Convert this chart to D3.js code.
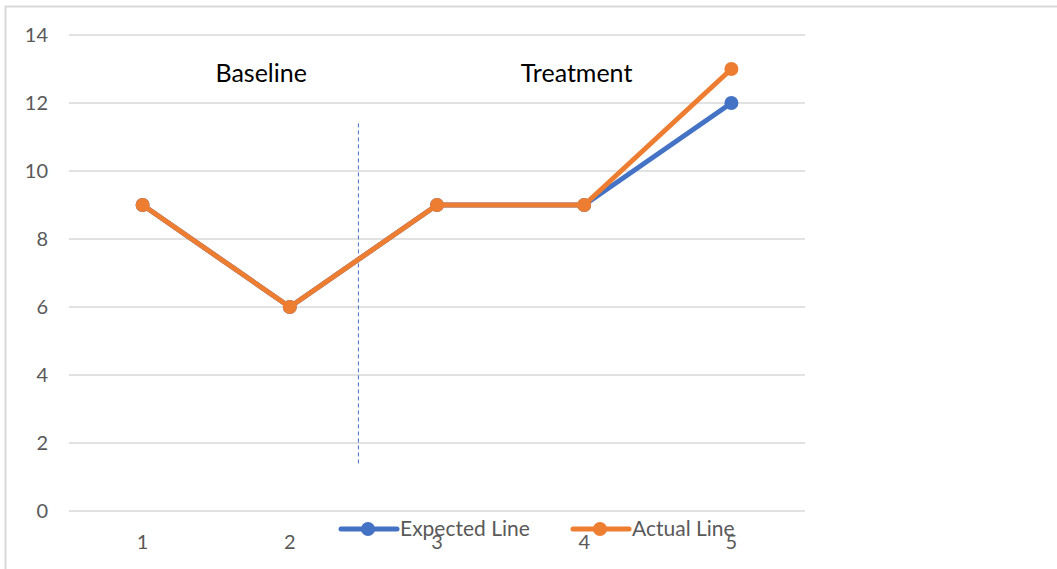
<!DOCTYPE html>
<html>
<head>
<meta charset="utf-8">
<script src="https://cdn.jsdelivr.net/npm/d3@7"></script>
<style>
  body { margin: 0; background: #fff; }
  text { font-family: Lato, "Open Sans", sans-serif; }
</style>
</head>
<body>
<div id="chart"></div>
<script>
// data
const categories = ["1", "2", "3", "4", "5"];
const expectedValues = [9, 6, 9, 9, 12];
const actualValues = [9, 6, 9, 9, 13];
const yTicks = [0, 2, 4, 6, 8, 10, 12, 14];
const seriesNames = ["Expected Line", "Actual Line"];
const phaseLabels = ["Baseline", "Treatment"];

const width = 1057, height = 569;
const margin = {top: 35, right: 252, bottom: 58, left: 69};
const innerW = width - margin.left - margin.right,
      innerH = height - margin.top - margin.bottom;

const svg = d3.select("#chart")
  .append("svg")
  .attr("width", width)
  .attr("height", height);

// outer chart border (only top and left visible)
svg.append("rect")
  .attr("x", 5.5).attr("y", 6.5)
  .attr("width", width + 10).attr("height", height + 10)
  .attr("fill", "none")
  .attr("stroke", "#d9d9d9")
  .attr("stroke-width", 2);

const g = svg.append("g")
  .attr("transform", `translate(${margin.left},${margin.top})`);

const x = d3.scaleBand()
  .domain(categories)
  .range([0, innerW]);

const y = d3.scaleLinear()
  .domain([0, 14])
  .range([innerH, 0]);

// gridlines
g.append("g")
  .selectAll("line")
  .data(yTicks)
  .join("line")
  .attr("x1", 0).attr("x2", innerW)
  .attr("y1", d => y(d)).attr("y2", d => y(d))
  .attr("stroke", "#d9d9d9")
  .attr("stroke-width", 1.5);

// y axis labels
const yAxis = g.append("g")
  .call(d3.axisLeft(y).tickValues(yTicks).tickSize(0).tickPadding(21));
yAxis.select(".domain").remove();
yAxis.selectAll("text")
  .attr("fill", "#595959")
  .style("font-size", "20px");

// x axis labels
const xAxis = g.append("g")
  .attr("transform", `translate(0,${innerH})`)
  .call(d3.axisBottom(x).tickSize(0).tickPadding(24));
xAxis.select(".domain").remove();
xAxis.selectAll("text")
  .attr("fill", "#595959")
  .style("font-size", "20px");

// phase change line between 2 and 3
const phaseX = (x("2") + x.bandwidth() / 2 + x("3") + x.bandwidth() / 2) / 2 - 5;
g.append("line")
  .attr("x1", phaseX).attr("x2", phaseX)
  .attr("y1", y(11.4)).attr("y2", y(1.4))
  .attr("stroke", "#4472c4")
  .attr("stroke-width", 1)
  .attr("stroke-dasharray", "4,3");

// phase labels
g.selectAll(".phase")
  .data(phaseLabels)
  .join("text")
  .attr("class", "phase")
  .attr("x", (d, i) => i === 0 ? x("2") + 45 : x("4") + 66)
  .attr("y", y(13) + 13)
  .attr("text-anchor", "middle")
  .attr("fill", "#000")
  .style("font-size", "25px")
  .text(d => d);

const colors = ["#4472c4", "#ed7d31"];
const series = [expectedValues, actualValues];

const line = d3.line()
  .x((d, i) => x(categories[i]) + x.bandwidth() / 2)
  .y(d => y(d));

series.forEach(function(vals, s) {
  g.append("path")
    .datum(vals)
    .attr("fill", "none")
    .attr("stroke", colors[s])
    .attr("stroke-width", 5)
    .attr("stroke-linejoin", "round")
    .attr("d", line);
  g.selectAll(".pt" + s)
    .data(vals)
    .join("circle")
    .attr("class", "pt" + s)
    .attr("cx", (d, i) => x(categories[i]) + x.bandwidth() / 2)
    .attr("cy", d => y(d))
    .attr("r", 7)
    .attr("fill", colors[s]);
});

// legend
const legendX = [341, 573];
const legend = svg.selectAll(".legend")
  .data(seriesNames)
  .join("g")
  .attr("class", "legend")
  .attr("transform", (d, i) => `translate(${legendX[i]},529)`);
legend.append("line")
  .attr("x1", 0).attr("x2", 56)
  .attr("stroke", (d, i) => colors[i])
  .attr("stroke-width", 5)
  .attr("stroke-linecap", "round");
legend.append("circle")
  .attr("cx", 27).attr("r", 7)
  .attr("fill", (d, i) => colors[i]);
legend.append("text")
  .attr("x", 59)
  .attr("dy", "0.35em")
  .attr("fill", "#595959")
  .style("font-size", "21px")
  .text(d => d);
</script>
</body>
</html>
